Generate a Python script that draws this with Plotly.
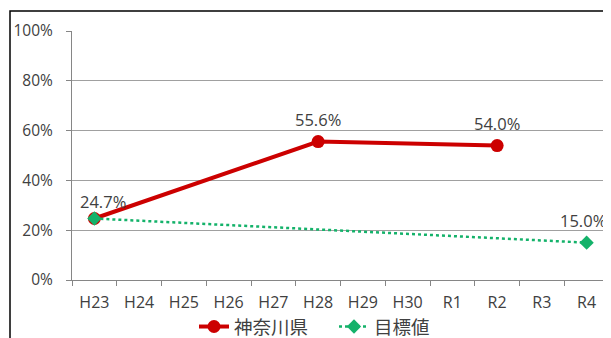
import plotly.graph_objects as go

categories = ["H23", "H24", "H25", "H26", "H27", "H28", "H29", "H30", "R1", "R2", "R3", "R4"]
kanagawa = [24.7, None, None, None, None, 55.6, None, None, None, 54.0, None, None]
target = [24.7, None, None, None, None, None, None, None, None, None, None, 15.0]
y_ticks = [0, 20, 40, 60, 80, 100]
y_tick_labels = ["0%", "20%", "40%", "60%", "80%", "100%"]

FONT = "Open Sans, Noto Sans CJK JP"
TXT = "#404040"
RED = "#CC0000"
GREEN = "#14B26A"

fig = go.Figure()
fig.add_trace(go.Scatter(
    x=categories, y=kanagawa, name="神奈川県", mode="lines+markers",
    connectgaps=True,
    line=dict(color=RED, width=4),
    marker=dict(symbol="circle", size=13, color=RED),
))
fig.add_trace(go.Scatter(
    x=categories, y=target, name="目標値", mode="lines+markers",
    connectgaps=True,
    line=dict(color=GREEN, width=2.5, dash="dot"),
    marker=dict(symbol="diamond", size=11, color=GREEN),
))

# data labels (first target point shares the 神奈川県 label)
label_points = []
for i, v in enumerate(kanagawa):
    if v is not None:
        label_points.append((categories[i], v))
for i, v in enumerate(target):
    if v is not None and i > 0:
        label_points.append((categories[i], v))

shifts = {0: (9, 17)}
last = len(label_points) - 1
for k, (c, v) in enumerate(label_points):
    xs, ys = shifts.get(k, (0, 22))
    if k == last:
        xs = -4
    fig.add_annotation(x=c, y=v, text=f"{v:.1f}%", showarrow=False,
                       xshift=xs, yshift=ys,
                       font=dict(family=FONT, size=16.5, color=TXT))

fig.update_layout(
    width=603, height=330,
    margin=dict(l=64, r=2, t=23, b=58, autoexpand=False),
    paper_bgcolor="white", plot_bgcolor="white",
    font=dict(family=FONT, size=15, color=TXT),
    showlegend=True,
    legend=dict(orientation="h", xref="paper", x=(186 - 64) / 537, xanchor="left",
                yref="container", y=1 - 319 / 330, yanchor="middle",
                entrywidth=95, entrywidthmode="pixels",
                font=dict(family="Noto Sans CJK JP", size=18.5, color=TXT),
                bgcolor="rgba(0,0,0,0)"),
    xaxis=dict(type="category", range=[-0.5, 11.5], showgrid=False, automargin=False,
               showline=True, linecolor="#868686", linewidth=1,
               ticks="outside", tickson="boundaries", ticklen=5, tickcolor="#868686",
               ticklabelstandoff=8,
               tickfont=dict(family=FONT, size=16, color=TXT)),
    yaxis=dict(range=[0, 100], tickvals=y_ticks, ticktext=y_tick_labels, automargin=False,
               showgrid=True, gridcolor="#A0A0A0", gridwidth=1,
               showline=True, linecolor="#868686", linewidth=1,
               ticks="outside", ticklen=5, tickcolor="#868686",
               ticklabelstandoff=10,
               tickfont=dict(family=FONT, size=15.5, color=TXT), zeroline=False),
)

fig.add_shape(type="rect", xref="paper", yref="paper",
              x0=(2 - 64) / 537, x1=(604 - 64) / 537,
              y0=(272 - 340) / 249, y1=(272 - 3) / 249,
              line=dict(color="black", width=1.5), fillcolor="rgba(0,0,0,0)", layer="below")

fig.write_html("out.html")
